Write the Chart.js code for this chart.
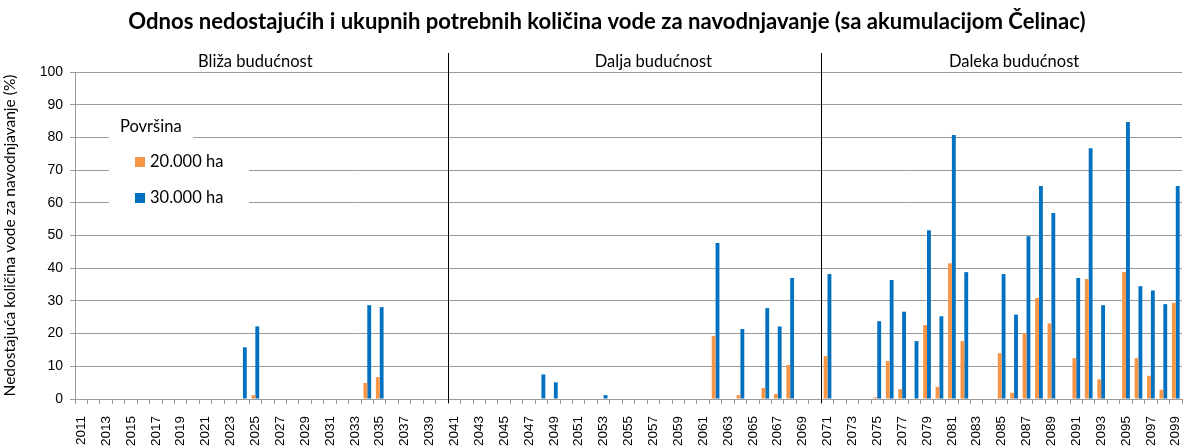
<!DOCTYPE html>
<html>
<head>
<meta charset="utf-8">
<script src="https://cdn.jsdelivr.net/npm/chart.js@4.4.1/dist/chart.umd.min.js"></script>
<style>
  html, body { margin: 0; padding: 0; background: #fff; }
  #wrap { width: 1186px; height: 448px; }
</style>
</head>
<body>
<div id="wrap"><canvas id="myChart" width="1186" height="448"></canvas></div>
<script>
// Years 2011..2099
const years = [];
for (let y = 2011; y <= 2099; y++) years.push(String(y));

// Nedostajuća količina (%), 20.000 ha
const area20 = [
  0, 0, 0, 0, 0, 0, 0, 0, 0, 0,            // 2011-2020
  0, 0, 0, 0, 1.2, 0, 0, 0, 0, 0,          // 2021-2030
  0, 0, 0, 4.9, 6.7, 0, 0, 0, 0, 0,        // 2031-2040
  0, 0, 0, 0, 0, 0, 0, 0, 0, 0,            // 2041-2050
  0, 0, 0, 0, 0, 0, 0, 0, 0, 0,            // 2051-2060
  0, 19.3, 0, 1.2, 0, 3.4, 1.5, 10.4, 0, 0, // 2061-2070
  13.1, 0, 0, 0, 0.5, 11.6, 3.0, 0, 22.6, 3.7, // 2071-2080
  41.5, 17.7, 0, 0, 14, 1.9, 20.1, 30.9, 23.1, 0, // 2081-2090
  12.5, 36.7, 6, 0, 38.8, 12.5, 7.1, 2.8, 29.4    // 2091-2099
];

// Nedostajuća količina (%), 30.000 ha
const area30 = [
  0, 0, 0, 0, 0, 0, 0, 0, 0, 0,            // 2011-2020
  0, 0, 0, 15.8, 22.2, 0, 0, 0, 0, 0,      // 2021-2030
  0, 0, 0, 28.7, 28.1, 0, 0, 0, 0, 0,      // 2031-2040
  0, 0, 0, 0, 0, 0, 0, 7.5, 5.1, 0,        // 2041-2050
  0, 0, 1.2, 0, 0, 0, 0, 0, 0, 0,          // 2051-2060
  0, 47.7, 0, 21.4, 0, 27.8, 22.2, 37, 0, 0, // 2061-2070
  38.2, 0, 0, 0, 23.8, 36.4, 26.7, 17.7, 51.6, 25.3, // 2071-2080
  80.7, 38.8, 0, 0, 38.2, 25.8, 49.8, 65.1, 56.9, 0, // 2081-2090
  37, 76.7, 28.7, 0, 84.7, 34.5, 33.2, 29, 65.1      // 2091-2099
];

const yTicks = [0, 10, 20, 30, 40, 50, 60, 70, 80, 90, 100];

// periods: label + where it sits on the category axis
const periodNames = ['Bliža budućnost', 'Dalja budućnost', 'Daleka budućnost'];
const periodLabelAt = [14, 46, 75];
const periodSplits = [29.5, 59.5];    // boundaries 2040|2041 and 2070|2071

const FONT = 'Lato, "Open Sans", sans-serif';
const TICK_FONT = '"Liberation Sans", Arial, sans-serif';
const TITLE = 'Odnos nedostajućih i ukupnih potrebnih količina vode za navodnjavanje (sa akumulacijom Čelinac)';

// title, period labels, separators and legend box
const decorPlugin = {
  id: 'decor',
  afterDraw(chart) {
    const ctx = chart.ctx;
    const xs = chart.scales.x;
    const area = chart.chartArea;
    ctx.save();

    // main title, sized to the reference width
    ctx.font = 'bold 18px ' + FONT;
    const size = 18 * 956 / ctx.measureText(TITLE).width;
    ctx.font = 'bold ' + size.toFixed(1) + 'px ' + FONT;
    ctx.fillStyle = '#000';
    ctx.textAlign = 'center';
    ctx.textBaseline = 'middle';
    ctx.fillText(TITLE, 607, 22);

    // separators
    ctx.strokeStyle = '#000';
    ctx.lineWidth = 1;
    periodSplits.forEach(v => {
      const x = Math.round(xs.getPixelForValue(v)) + 0.5;
      ctx.beginPath();
      ctx.moveTo(x, area.top - 19);
      ctx.lineTo(x, area.bottom + 4);
      ctx.stroke();
    });

    // period labels
    ctx.font = '16.5px ' + FONT;
    periodNames.forEach((name, i) => {
      ctx.fillText(name, xs.getPixelForValue(periodLabelAt[i]), area.top - 10);
    });

    // legend
    const lx = area.left + 34, ly = area.top + 40;
    ctx.fillStyle = '#fff';
    ctx.fillRect(lx, ly, 84, 30);
    ctx.fillRect(lx, ly + 34, 140, 66);
    ctx.fillStyle = '#000';
    ctx.textAlign = 'left';
    ctx.font = '16.5px ' + FONT;
    ctx.fillText('Površina', lx + 11, ly + 15);
    chart.data.datasets.forEach((ds, i) => {
      const cy = ly + 50 + i * 36;
      ctx.fillStyle = ds.backgroundColor;
      ctx.fillRect(lx + 26, cy - 5, 10, 10);
      ctx.fillStyle = '#000';
      ctx.fillText(ds.label, lx + 41, cy);
    });

    ctx.restore();
  }
};

const ctx = document.getElementById('myChart').getContext('2d');
new Chart(ctx, {
  type: 'bar',
  data: {
    labels: years,
    datasets: [
      { label: '20.000 ha', data: area20, backgroundColor: '#F79646' },
      { label: '30.000 ha', data: area30, backgroundColor: '#0070C0' }
    ]
  },
  options: {
    responsive: false,
    animation: false,
    layout: { padding: { top: 72, right: 4, bottom: 0, left: 0 } },
    categoryPercentage: 0.62,
    barPercentage: 1.0,
    plugins: {
      legend: { display: false },
      title: { display: false },
      tooltip: { enabled: false }
    },
    scales: {
      x: {
        grid: {
          offset: true,
          drawOnChartArea: false,
          drawTicks: true,
          tickLength: 5,
          color: '#9a9a9a'
        },
        border: { color: '#9a9a9a' },
        ticks: {
          autoSkip: false,
          maxRotation: 90,
          minRotation: 90,
          padding: 12,
          color: '#000',
          font: { family: TICK_FONT, size: 13.5 },
          callback: function (val, idx) { return idx % 2 === 0 ? this.getLabelForValue(val) : ''; }
        },
        afterFit(scale) {
          scale.height = 49;
          scale.paddingLeft = 0;
          scale.paddingRight = 0;
        }
      },
      y: {
        min: 0,
        max: 100,
        afterBuildTicks(scale) { scale.ticks = yTicks.map(v => ({ value: v })); },
        grid: { color: '#9a9a9a', tickLength: 5 },
        border: { color: '#9a9a9a' },
        ticks: {
          color: '#000',
          padding: 7,
          font: { family: TICK_FONT, size: 14 }
        },
        title: {
          display: true,
          text: 'Nedostajuća količina vode za navodnjavanje (%)',
          color: '#000',
          font: { family: FONT, size: 15.5 },
          padding: { top: 1, bottom: 0 }
        },
        afterFit(scale) { scale.width = 75; }
      }
    }
  },
  plugins: [decorPlugin]
});
</script>
</body>
</html>
